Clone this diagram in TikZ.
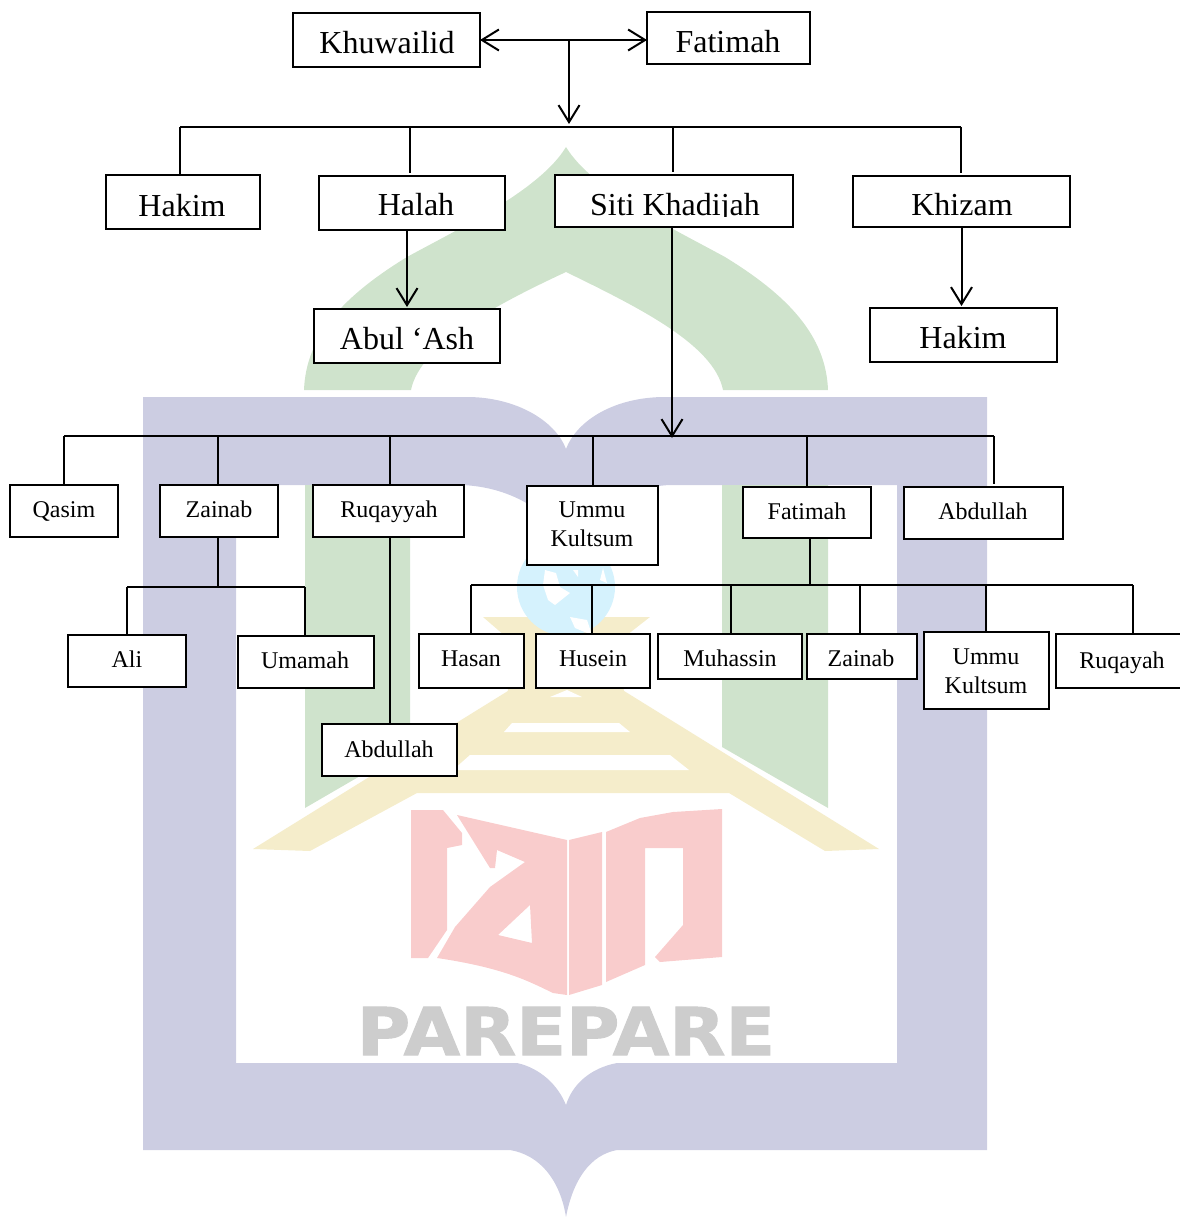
\documentclass[tikz,border=0pt]{standalone}
\usepackage{fontspec}
\setmainfont{Liberation Serif}
\newfontfamily\wmfont[FakeBold=1.5]{DejaVu Sans Bold}
\usetikzlibrary{arrows.meta}
\definecolor{wmlilac}{HTML}{CCCDE2}
\definecolor{wmgreen}{HTML}{CFE3CC}
\definecolor{wmyellow}{HTML}{F5EDCB}
\definecolor{wmred}{HTML}{F9CCCC}
\definecolor{wmgrey}{HTML}{CDCDCD}
\definecolor{wmcyan}{HTML}{D5F2FD}
\tikzset{
  boxst/.style={draw=black,fill=white,line width=2pt,inner sep=0pt,outer sep=0pt,text height=0pt,text depth=0pt,anchor=center},
  bigtxt/.style={font=\fontsize{32}{38}\selectfont},
  smalltxt/.style={font=\fontsize{24}{29}\selectfont},
  conn/.style={draw=black,line width=2pt},
  conngap/.style={conn,shorten >=3pt},
  arr/.style={conn,-{Straight Barb[length=17pt,width=21pt,line width=2pt]}},
  arrboth/.style={conn,{Straight Barb[length=17pt,width=21pt,line width=2pt]}-{Straight Barb[length=17pt,width=21pt,line width=2pt]}}
}
\newcommand\bx[9]{%
  \pgfmathsetmacro\bxW{#4-#2}\pgfmathsetmacro\bxH{#5-#3}%
  \pgfmathsetmacro\bxCx{(#2+#4)/2}\pgfmathsetmacro\bxCy{(#3+#5)/2}%
  \pgfmathsetmacro\bxDx{2*(#6-\bxCx)}\pgfmathsetmacro\bxDy{\bxCy-#7}%
  \node[boxst,#8,minimum width=\bxW pt,minimum height=\bxH pt] (#1) at (\bxCx,\bxCy)
    {\raisebox{\bxDy pt}{\makebox[0pt]{\hspace*{\bxDx pt}#9}}};%
}
\newcommand\twol[2]{\begin{tabular}[t]{@{}c@{}}#1\\#2\end{tabular}}
\begin{document}
\begin{tikzpicture}[x=1pt,y=-1pt]
\useasboundingbox (0,0) rectangle (1179,1217);
% ---- watermark ----
\fill[wmlilac,even odd rule]
  (143,397) -- (467,397) .. controls (515,397) and (555,420) .. (566,449)
  .. controls (577,420) and (615,397) .. (665,397) -- (987,397) -- (987,1150) -- (617,1150)
  .. controls (590,1155) and (573,1180) .. (566,1217)
  .. controls (560,1180) and (540,1155) .. (510,1150) -- (143,1150) -- cycle
  (236,485) -- (462,485) .. controls (510,487) and (545,510) .. (566,538)
  .. controls (590,510) and (625,487) .. (670,485) -- (897,485) -- (897,1063) -- (617,1063)
  .. controls (590,1068) and (572,1085) .. (566,1105)
  .. controls (558,1085) and (540,1068) .. (517,1063) -- (236,1063) -- cycle;
\fill[wmgreen] (304,390) .. controls (306,335) and (345,295) .. (407,257)
  .. controls (460,228) and (540,190) .. (566,147)
  .. controls (592,190) and (672,228) .. (725,257)
  .. controls (787,295) and (826,335) .. (828,390)
  -- (723,390) .. controls (714,345) and (640,308) .. (566,272)
  .. controls (495,305) and (420,345) .. (411,390) -- cycle;
\fill[wmgreen] (305,485) -- (410,485) -- (410,747) -- (305,808) -- cycle;
\fill[wmgreen] (722,485) -- (828,485) -- (828,808) -- (722,747) -- cycle;
\draw[white,line width=4pt] (253,851) -- (566,653) -- (879,851);
\fill[wmyellow]
  (253,849) -- (566,655) -- (879,849) -- (825,851) -- (729,793) -- (417,793) -- (310,851) -- cycle;
\fill[wmyellow] (483,617) -- (650,617) -- (618,642) -- (625,700) -- (507,700) -- (512,642) -- cycle;
\fill[white] (550,697) -- (567,690) -- (582,697) -- cycle;
\fill[white] (504,732) -- (630,732) -- (619,723) -- (512,723) -- cycle;
\fill[white] (453,770) -- (689,770) -- (670,755) -- (470,755) -- cycle;
\fill[wmcyan] (566,587) circle[radius=49];
\fill[white] (545,570) -- (556,573) -- (560,587) -- (570,593) -- (555,605) -- (548,600) -- (543,585) -- cycle;
\fill[white] (570,617) -- (587,620) -- (592,635) -- (575,628) -- cycle;
\fill[white] (573,570) -- (578,570) -- (578,577) -- cycle;
\fill[white] (603,568) -- (607,583) -- (600,580) -- cycle;
% red letters
\fill[wmred] (411,810) -- (443,810) -- (462,833) -- (462,845) -- (447,848) -- (447,930) -- (428,958) -- (411,958) -- cycle;
\fill[wmred,even odd rule] (457,815) -- (567,840) -- (567,995) -- (553,993) .. controls (530,982) and (505,968) .. (437,958)
  -- (455,927) -- (490,887) -- (525,862) -- (497,850) -- (495,868) -- (490,868) -- cycle
  (530,905) -- (532,943) -- (498,935) -- cycle;
\fill[wmred] (569,840) -- (602,832) -- (602,985) -- (569,995) -- cycle;
\fill[wmred] (606,832) -- (640,818) -- (673,812) -- (722,809) -- (722,957) -- (660,962) -- (655,957) -- (683,925) -- (683,848) -- (645,848) -- (645,965) -- (606,982) -- cycle;
\node[text=wmgrey,inner sep=0pt,font=\wmfont\fontsize{66}{66}\selectfont] (parepare) at (566,1031)
  {\scalebox{1.105}[1]{PAREPARE}};
% ---- connector coordinates ----
\coordinate (topjoin) at (569,40);
\coordinate (rail1) at (569,127);
\coordinate (rail1l) at (180,127);
\coordinate (rail1r) at (961,127);
\coordinate (dhalah) at (410,127);
\coordinate (dsiti) at (673,127);
\coordinate (rail2in) at (672,438);
\coordinate (rail2l) at (64,436);
\coordinate (rail2r) at (994,436);
\coordinate (d2z) at (218,436);
\coordinate (d2r) at (390,436);
\coordinate (d2u) at (593,436);
\coordinate (d2f) at (807,436);
\coordinate (zjoin) at (218,587);
\coordinate (rail3l) at (127,587);
\coordinate (rail3r) at (305,587);
\coordinate (fjoin) at (810,585);
\coordinate (rail4l) at (471,585);
\coordinate (rail4r) at (1133,585);
\coordinate (d4a) at (592,585);
\coordinate (d4b) at (731,585);
\coordinate (d4c) at (860,585);
\coordinate (d4d) at (986,585);
% ---- boxes ----
\bx{khuwailid}{293}{13}{480}{67}{387}{54}{bigtxt}{Khuwailid}
\bx{fatimahtop}{647}{12}{810}{64}{728}{53}{bigtxt}{Fatimah}
\bx{hakima}{106}{175}{260}{229}{182}{216}{bigtxt}{Hakim}
\bx{halah}{319}{176}{505}{230}{416}{216}{bigtxt}{Halah}
\bx{siti}{555}{175}{793}{227}{675}{215}{bigtxt}{Siti Khadijah}
\fill[white] (557,217) rectangle (791,226);
\bx{khizam}{853}{176}{1070}{227}{962}{215}{bigtxt}{Khizam}
\bx{abul}{314}{309}{500}{363}{407}{349}{bigtxt}{Abul ‘Ash}
\bx{hakimb}{870}{308}{1057}{362}{963}{348}{bigtxt}{Hakim}
\bx{qasim}{10}{485}{118}{537}{64}{517}{smalltxt}{Qasim}
\bx{zainaba}{160}{485}{278}{537}{219}{517}{smalltxt}{Zainab}
\bx{ruqayyah}{313}{485}{464}{537}{389}{517}{smalltxt}{Ruqayyah}
\bx{ummua}{527}{486}{658}{565}{592}{517}{smalltxt}{\twol{Ummu}{Kultsum}}
\bx{fatimahb}{743}{487}{871}{538}{807}{519}{smalltxt}{Fatimah}
\bx{abdullaha}{904}{487}{1063}{539}{983}{519}{smalltxt}{Abdullah}
\bx{ali}{68}{635}{186}{687}{127}{667}{smalltxt}{Ali}
\bx{umamah}{238}{636}{374}{688}{305}{668}{smalltxt}{Umamah}
\bx{abdullahb}{322}{724}{457}{776}{389}{757}{smalltxt}{Abdullah}
\bx{hasan}{419}{634}{524}{688}{471}{666}{smalltxt}{Hasan}
\bx{husein}{536}{634}{650}{688}{593}{666}{smalltxt}{Husein}
\bx{muhassin}{658}{634}{802}{679}{730}{666}{smalltxt}{Muhassin}
\bx{zainabb}{807}{634}{917}{679}{861}{666}{smalltxt}{Zainab}
\bx{ummub}{924}{632}{1049}{709}{986}{664}{smalltxt}{\twol{Ummu}{Kultsum}}
\bx{ruqayah}{1056}{634}{1182}{688}{1122}{668}{smalltxt}{Ruqayah}
% ---- connectors ----
\draw[arrboth] (khuwailid.east |- topjoin) -- (fatimahtop.west |- topjoin);
\draw[arr] (topjoin) -- (rail1 |- 0,124);
\draw[conn] (rail1l) -- (rail1r);
\draw[conn] (rail1l) -- (rail1l |- hakima.north);
\draw[conngap] (dhalah) -- (dhalah |- halah.north);
\draw[conngap] (dsiti) -- (dsiti |- siti.north);
\draw[conngap] (rail1r) -- (rail1r |- khizam.north);
\draw[arr] (abul.north |- halah.south) -- ([yshift=2pt]abul.north);
\draw[arr] (khizam.south) -- ([yshift=2pt]khizam.south |- hakimb.north);
\draw[conn] (rail2l) -- (rail2r);
\draw[arr] (rail2in |- siti.south) -- (rail2in);
\draw[conn] (rail2l) -- (rail2l |- qasim.north);
\draw[conn] (d2z) -- (d2z |- zainaba.north);
\draw[conn] (d2r) -- (d2r |- ruqayyah.north);
\draw[conn] (d2u) -- (d2u |- ummua.north);
\draw[conn] (d2f) -- (d2f |- fatimahb.north);
\draw[conngap] (rail2r) -- (rail2r |- abdullaha.north);
\draw[conn] (zjoin |- zainaba.south) -- (zjoin);
\draw[conn] (rail3l) -- (rail3r);
\draw[conn] (rail3l) -- (rail3l |- ali.north);
\draw[conn] (rail3r) -- (rail3r |- umamah.north);
\draw[conn] (abdullahb.north |- ruqayyah.south) -- (abdullahb.north);
\draw[conn] (fjoin |- fatimahb.south) -- (fjoin);
\draw[conn] (rail4l) -- (rail4r);
\draw[conn] (rail4l) -- (rail4l |- hasan.north);
\draw[conn] (d4a) -- (d4a |- husein.north);
\draw[conn] (d4b) -- (d4b |- muhassin.north);
\draw[conn] (d4c) -- (d4c |- zainabb.north);
\draw[conn] (d4d) -- (d4d |- ummub.north);
\draw[conn] (rail4r) -- (rail4r |- ruqayah.north);
\end{tikzpicture}
\end{document}
